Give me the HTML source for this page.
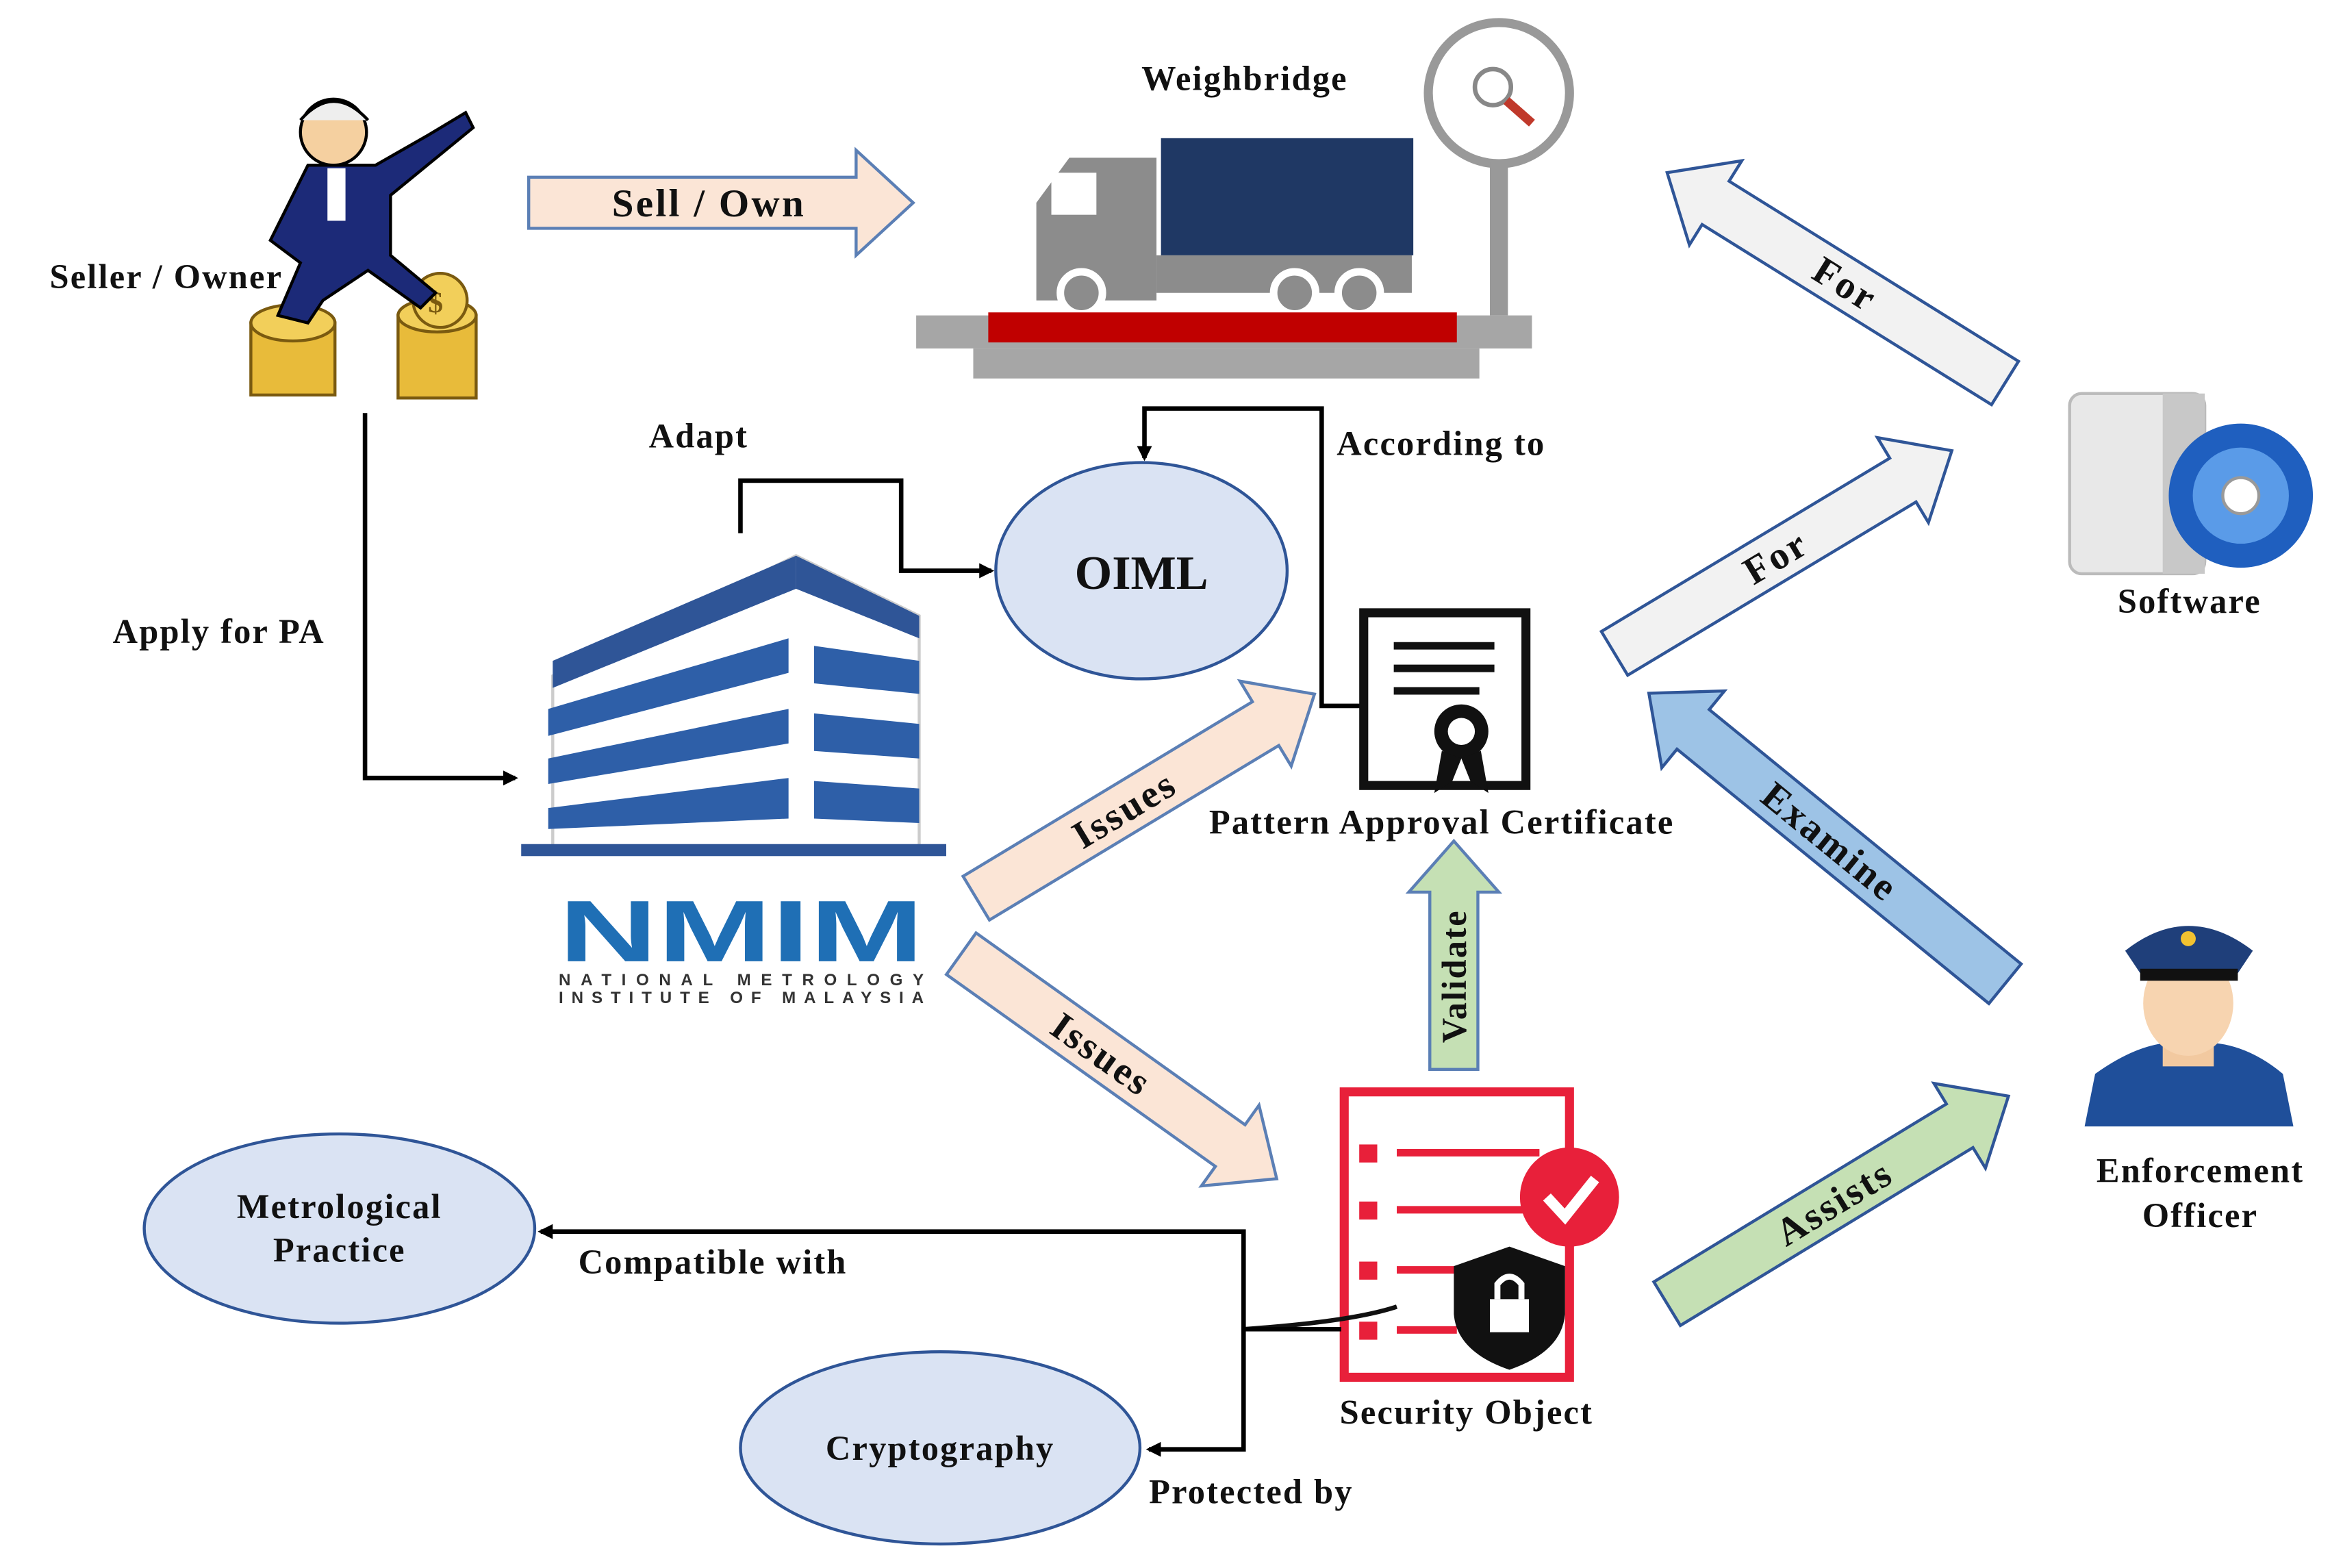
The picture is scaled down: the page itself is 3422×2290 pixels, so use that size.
<!DOCTYPE html>
<html><head><meta charset="utf-8">
<style>
html,body{margin:0;padding:0;background:#fff;}
svg{display:block;}
text{font-family:"Liberation Serif",serif;font-weight:bold;fill:#111;letter-spacing:1px;}
.al{letter-spacing:1.5px;}
</style></head>
<body>
<svg width="3422" height="2290" viewBox="0 0 1560 1044" xmlns="http://www.w3.org/2000/svg">
<defs>
<marker id="ah" markerWidth="10" markerHeight="10" refX="8" refY="5" orient="auto" markerUnits="userSpaceOnUse">
<path d="M0,0 L10,5 L0,10 z" fill="#000"/></marker>
</defs>
<rect width="1560" height="1044" fill="#fff"/>

<!-- Seller figure -->
<g>
<rect x="167" y="215" width="56" height="48" fill="#e8bb3a" stroke="#7a5a10" stroke-width="2"/>
<ellipse cx="195" cy="215" rx="28" ry="12" fill="#f2cf5a" stroke="#7a5a10" stroke-width="2"/>
<rect x="265" y="210" width="52" height="55" fill="#e8bb3a" stroke="#7a5a10" stroke-width="2"/>
<ellipse cx="291" cy="210" rx="26" ry="11" fill="#f2cf5a" stroke="#7a5a10" stroke-width="2"/>
<circle cx="293" cy="200" r="18" fill="#f2cf5a" stroke="#7a5a10" stroke-width="2"/>
<text x="285" y="208" font-size="20" style="fill:#7a5a10">$</text>
<path d="M205,110 L250,110 L285,90 L310,75 L315,85 L260,130 L260,170 L290,195 L280,205 L245,180 L215,200 L205,215 L185,210 L200,175 L180,160 Z" fill="#1c2a78" stroke="#000" stroke-width="2"/>
<circle cx="222" cy="88" r="22" fill="#f5d0a0" stroke="#000" stroke-width="2"/>
<path d="M200,80 Q222,55 245,80" fill="#eee" stroke="#000" stroke-width="2"/>
<rect x="218" y="112" width="12" height="35" fill="#fff"/>
</g>
<text x="33" y="192" font-size="23">Seller / Owner</text>

<!-- Sell/Own arrow -->
<g transform="translate(352,135)">
<polygon points="0,-17 218,-17 218,-35 256,0 218,35 218,17 0,17" fill="#fbe5d6" stroke="#5b7fb5" stroke-width="2"/>
<text class="al" x="120" y="9" font-size="26" text-anchor="middle">Sell / Own</text>
</g>

<!-- Weighbridge -->
<text x="760" y="60" font-size="23">Weighbridge</text>
<circle cx="998" cy="62" r="47" fill="#fff" stroke="#999" stroke-width="6"/>
<circle cx="994" cy="58" r="12" fill="none" stroke="#888" stroke-width="3"/>
<line x1="1003" y1="67" x2="1020" y2="82" stroke="#c0392b" stroke-width="6"/>
<rect x="992" y="108" width="12" height="102" fill="#999"/>
<rect x="773" y="92" width="168" height="78" fill="#1f3864"/>
<path d="M690,200 L690,135 L712,105 L770,105 L770,200 Z" fill="#8c8c8c"/>
<rect x="700" y="115" width="30" height="28" fill="#fff"/>
<rect x="770" y="170" width="170" height="25" fill="#8c8c8c"/>
<circle cx="720" cy="195" r="14" fill="#8c8c8c" stroke="#fff" stroke-width="5"/>
<circle cx="862" cy="195" r="14" fill="#8c8c8c" stroke="#fff" stroke-width="5"/>
<circle cx="905" cy="195" r="14" fill="#8c8c8c" stroke="#fff" stroke-width="5"/>
<rect x="610" y="210" width="410" height="22" fill="#a6a6a6"/>
<rect x="658" y="208" width="312" height="20" fill="#c00000"/>
<rect x="648" y="232" width="337" height="20" fill="#a6a6a6"/>

<!-- Apply for PA -->
<polyline points="243,275 243,518 343,518" fill="none" stroke="#000" stroke-width="3" marker-end="url(#ah)"/>
<text x="75" y="428" font-size="23">Apply for PA</text>

<!-- Adapt -->
<polyline points="493,355 493,320 600,320 600,380 660,380" fill="none" stroke="#000" stroke-width="3" marker-end="url(#ah)"/>
<text x="432" y="298" font-size="23">Adapt</text>

<!-- According to -->
<polyline points="908,470 880,470 880,272 762,272 762,305" fill="none" stroke="#000" stroke-width="3" marker-end="url(#ah)"/>
<text x="890" y="303" font-size="23">According to</text>

<!-- OIML -->
<ellipse cx="760" cy="380" rx="97" ry="72" fill="#dae3f3" stroke="#2f5597" stroke-width="2"/>
<text x="760" y="392" font-size="32" text-anchor="middle" style="font-family:'Liberation Serif',serif;letter-spacing:0">OIML</text>

<!-- Building -->
<g>
<polygon points="368,450 530,370 612,410 612,565 368,565" fill="#fff" stroke="#ccc" stroke-width="2"/>
<polygon points="368,440 530,370 530,392 368,458" fill="#2f5597"/>
<polygon points="530,370 612,410 612,425 530,392" fill="#2f5597"/>
<polygon points="365,472 525,425 525,448 365,490" fill="#2e5fa8"/>
<polygon points="365,505 525,472 525,495 365,522" fill="#2e5fa8"/>
<polygon points="365,538 525,518 525,545 365,552" fill="#2e5fa8"/>
<polygon points="542,430 612,440 612,462 542,455" fill="#2e5fa8"/>
<polygon points="542,475 612,482 612,505 542,500" fill="#2e5fa8"/>
<polygon points="542,520 612,525 612,548 542,545" fill="#2e5fa8"/>
<rect x="347" y="562" width="283" height="8" fill="#2f5597"/>
</g>
<text x="372" y="640" font-size="58" textLength="243" lengthAdjust="spacingAndGlyphs" style="font-family:'Liberation Sans',sans-serif;fill:#1f6fb5;font-weight:900;letter-spacing:0">NMIM</text>
<text x="372" y="656" font-size="11" style="font-family:'Liberation Sans',sans-serif;fill:#333;letter-spacing:0" textLength="243">NATIONAL METROLOGY</text>
<text x="372" y="668" font-size="11" style="font-family:'Liberation Sans',sans-serif;fill:#333;letter-spacing:0" textLength="243">INSTITUTE OF MALAYSIA</text>

<!-- Certificate -->
<rect x="908" y="408" width="108" height="115" fill="#fff" stroke="#111" stroke-width="6"/>
<line x1="928" y1="430" x2="995" y2="430" stroke="#111" stroke-width="5"/>
<line x1="928" y1="445" x2="995" y2="445" stroke="#111" stroke-width="5"/>
<line x1="928" y1="460" x2="985" y2="460" stroke="#111" stroke-width="5"/>
<circle cx="973" cy="487" r="18" fill="#111"/>
<circle cx="973" cy="487" r="9" fill="#fff"/>
<polygon points="960,500 955,528 967,520 973,505" fill="#111"/>
<polygon points="986,500 991,528 979,520 973,505" fill="#111"/>
<text x="805" y="555" font-size="23">Pattern Approval Certificate</text>

<!-- Issues arrows -->
<g transform="translate(650,598) rotate(-31.1)">
<polygon points="0,-17 225,-17 225,-33 263,0 225,33 225,17 0,17" fill="#fbe5d6" stroke="#5b7fb5" stroke-width="2"/>
<text class="al" x="115" y="9" font-size="26" text-anchor="middle">Issues</text>
</g>
<g transform="translate(640,635) rotate(35.5)">
<polygon points="0,-17 220,-17 220,-33 258,0 220,33 220,17 0,17" fill="#fbe5d6" stroke="#5b7fb5" stroke-width="2"/>
<text class="al" x="115" y="9" font-size="26" text-anchor="middle">Issues</text>
</g>

<!-- Validate -->
<g transform="translate(968,712) rotate(-90)">
<polygon points="0,-16 118,-16 118,-30 152,0 118,30 118,16 0,16" fill="#c5e0b4" stroke="#5b7fb5" stroke-width="2"/>
<text x="62" y="8" font-size="23" text-anchor="middle">Validate</text>
</g>

<!-- Security object -->
<rect x="895" y="727" width="150" height="190" fill="#fff" stroke="#e8203a" stroke-width="6"/>
<g fill="#e8203a">
<rect x="905" y="762" width="12" height="12"/><rect x="930" y="765" width="95" height="5"/>
<rect x="905" y="800" width="12" height="12"/><rect x="930" y="803" width="90" height="5"/>
<rect x="905" y="840" width="12" height="12"/><rect x="930" y="843" width="60" height="5"/>
<rect x="905" y="880" width="12" height="12"/><rect x="930" y="883" width="40" height="5"/>
</g>
<circle cx="1045" cy="797" r="33" fill="#e8203a"/>
<polyline points="1030,797 1042,810 1062,785" fill="none" stroke="#fff" stroke-width="7"/>
<path d="M828,885 Q900,880 930,870" fill="none" stroke="#111" stroke-width="3"/>
<path d="M1005,830 L1042,843 L1042,875 Q1040,900 1005,912 Q970,900 968,875 L968,843 Z" fill="#111"/>
<rect x="992" y="865" width="26" height="22" fill="#fff"/>
<path d="M997,865 L997,855 Q1005,845 1013,855 L1013,865" fill="none" stroke="#fff" stroke-width="4"/>
<text x="892" y="948" font-size="23">Security Object</text>

<!-- Compatible/Protected lines -->
<polyline points="893,885 828,885 828,820 360,820" fill="none" stroke="#000" stroke-width="3" marker-end="url(#ah)"/>
<polyline points="828,885 828,965 765,965" fill="none" stroke="#000" stroke-width="3" marker-end="url(#ah)"/>
<text x="385" y="848" font-size="23">Compatible with</text>
<text x="765" y="1001" font-size="23">Protected by</text>

<ellipse cx="226" cy="818" rx="130" ry="63" fill="#dae3f3" stroke="#2f5597" stroke-width="2"/>
<text x="226" y="811" font-size="23" text-anchor="middle">Metrological</text>
<text x="226" y="840" font-size="23" text-anchor="middle">Practice</text>
<ellipse cx="626" cy="964" rx="133" ry="64" fill="#dae3f3" stroke="#2f5597" stroke-width="2"/>
<text x="626" y="972" font-size="23" text-anchor="middle">Cryptography</text>

<!-- For arrows -->
<g transform="translate(1335,255) rotate(211.9)">
<polygon points="0,-17 227,-17 227,-33 265,0 227,33 227,17 0,17" fill="#f2f2f2" stroke="#2f5597" stroke-width="2"/>
<text class="al" x="125" y="9" font-size="26" text-anchor="middle" transform="rotate(180 125 0)">For</text>
</g>
<g transform="translate(1075,435) rotate(-31)">
<polygon points="0,-17 224,-17 224,-33 262,0 224,33 224,17 0,17" fill="#f2f2f2" stroke="#2f5597" stroke-width="2"/>
<text class="al" x="125" y="9" font-size="26" text-anchor="middle">For</text>
</g>

<!-- Examine -->
<g transform="translate(1335,655) rotate(219.2)">
<polygon points="0,-17 268,-17 268,-33 306,0 268,33 268,17 0,17" fill="#9dc3e6" stroke="#2f5597" stroke-width="2"/>
<text class="al" x="150" y="9" font-size="26" text-anchor="middle" transform="rotate(180 150 0)">Examine</text>
</g>

<!-- Assists -->
<g transform="translate(1110,868) rotate(-31.3)">
<polygon points="0,-17 228,-17 228,-33 266,0 228,33 228,17 0,17" fill="#c5e0b4" stroke="#2f5597" stroke-width="2"/>
<text class="al" x="130" y="9" font-size="26" text-anchor="middle">Assists</text>
</g>

<!-- Software -->
<rect x="1378" y="262" width="90" height="120" rx="8" fill="#e8e8e8" stroke="#bbb" stroke-width="2"/>
<rect x="1440" y="262" width="28" height="120" fill="#c8c8c8"/>
<circle cx="1492" cy="330" r="48" fill="#1f5fbf"/>
<circle cx="1492" cy="330" r="32" fill="#5a9be8"/>
<circle cx="1492" cy="330" r="12" fill="#fff" stroke="#999" stroke-width="2"/>
<text x="1410" y="408" font-size="23">Software</text>

<!-- Officer -->
<path d="M1388,750 L1395,715 Q1430,690 1457,695 Q1490,690 1520,715 L1527,750 Z" fill="#1f4f9a"/>
<rect x="1440" y="690" width="34" height="20" fill="#f2c9a0"/>
<ellipse cx="1457" cy="668" rx="30" ry="35" fill="#f7d4b0"/>
<path d="M1415,633 Q1457,600 1500,633 L1490,648 L1425,648 Z" fill="#1f3f7a"/>
<rect x="1425" y="645" width="65" height="8" fill="#111"/>
<circle cx="1457" cy="625" r="5" fill="#f2c230"/>
<text x="1465" y="787" font-size="23" text-anchor="middle">Enforcement</text>
<text x="1465" y="817" font-size="23" text-anchor="middle">Officer</text>
</svg>
</body></html>
